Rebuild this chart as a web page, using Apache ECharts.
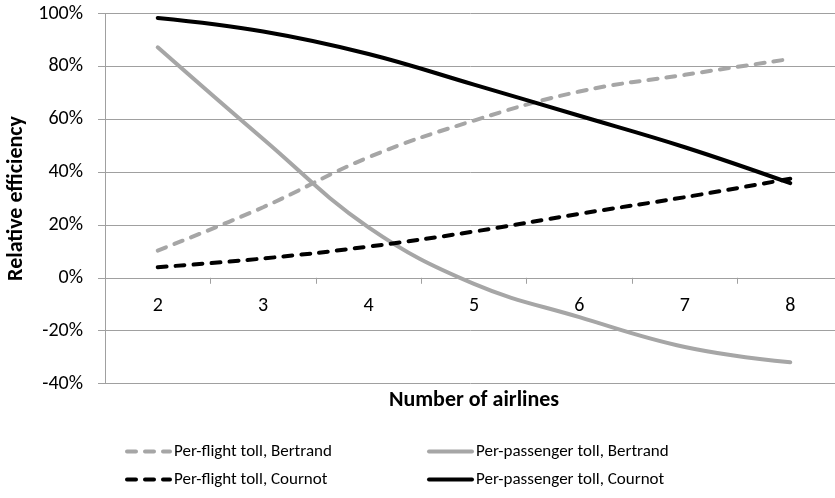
<!DOCTYPE html>
<html>
<head>
<meta charset="utf-8">
<script src="https://cdn.jsdelivr.net/npm/echarts@6/dist/echarts.min.js"></script>
<style>html,body{margin:0;padding:0;background:#fff;}#c{width:835px;height:498px;}</style>
</head>
<body>
<div id="c"></div>
<script>
const categories = ['2', '3', '4', '5', '6', '7', '8'];
const perFlightBertrand = [10.3, 26.7, 45.6, 59.5, 70.5, 76.8, 82.8];
const perPassengerBertrand = [87.2, 52.5, 19.1, -2.3, -14.9, -26.2, -32];
const perFlightCournot = [4, 7.3, 11.8, 17.5, 24.2, 30.5, 37.5];
const perPassengerCournot = [98.3, 93.2, 84.7, 73.1, 61.3, 49.4, 35.8];
const seriesNames = ['Per-flight toll, Bertrand', 'Per-passenger toll, Bertrand', 'Per-flight toll, Cournot', 'Per-passenger toll, Cournot'];
const yMin = -40, yMax = 100, yStep = 20;

const FONT = 'Carlito, Lato, sans-serif';
const GRID = '#a0a0a0';
const GRAY = '#a6a6a6';
const gridTop = 13.5, gridHeight = 370;
// move the category axis up to the y = 0 line
const zeroOffset = gridHeight * (0 - yMin) / (yMax - yMin);

function mk(name, data, color, dashed) {
  return {
    name: name, type: 'line', data: data, smooth: 0.4, symbol: 'none',
    lineStyle: { color: color, width: 4, type: dashed ? [9, 9] : 'solid', cap: 'round' },
    itemStyle: { color: color },
    animation: false
  };
}

function legendAt(left, names) {
  return {
    orient: 'vertical', left: left, top: 443, height: 55, padding: 0,
    itemWidth: 43, itemHeight: 14, itemGap: 11,
    data: names,
    itemStyle: { opacity: 0 },
    lineStyle: { width: 4 },
    textStyle: { fontFamily: FONT, fontSize: 17, color: '#000', padding: [0, 0, 0, -1] }
  };
}

const chart = echarts.init(document.getElementById('c'), null, { renderer: 'canvas' });
chart.setOption({
  animation: false,
  textStyle: { fontFamily: FONT },
  grid: { left: 105, width: 738, top: gridTop, height: gridHeight, containLabel: false, outerBoundsMode: 'none' },
  legend: [
    legendAt(125, [seriesNames[0], seriesNames[2]]),
    legendAt(427, [seriesNames[1], seriesNames[3]])
  ],
  xAxis: {
    type: 'category', data: categories, boundaryGap: true,
    position: 'bottom', offset: -zeroOffset,
    name: 'Number of airlines', nameLocation: 'middle', nameGap: 112,
    nameTextStyle: { fontFamily: FONT, fontSize: 22, fontWeight: 'bold', color: '#000' },
    axisLine: { onZero: false, lineStyle: { color: GRID, width: 1 } },
    axisTick: { show: true, length: 6, interval: 0, lineStyle: { color: GRID } },
    axisLabel: { margin: 18, fontFamily: FONT, fontSize: 20, color: '#000' },
    splitLine: { show: false }
  },
  yAxis: {
    type: 'value', min: yMin, max: yMax, interval: yStep,
    name: 'Relative efficiency', nameLocation: 'middle', nameGap: 74,
    nameTextStyle: { fontFamily: FONT, fontSize: 22, fontWeight: 'bold', color: '#000' },
    axisLine: { show: true, lineStyle: { color: GRID, width: 1 } },
    axisTick: { show: true, length: 7, lineStyle: { color: GRID } },
    axisLabel: { margin: 22, fontFamily: FONT, fontSize: 20, color: '#000', formatter: '{value}%' },
    splitLine: { show: true, lineStyle: { color: GRID, width: 1 } }
  },
  series: [
    mk(seriesNames[0], perFlightBertrand, GRAY, true),
    mk(seriesNames[1], perPassengerBertrand, GRAY, false),
    mk(seriesNames[2], perFlightCournot, '#000', true),
    mk(seriesNames[3], perPassengerCournot, '#000', false)
  ]
});
</script>
</body>
</html>
